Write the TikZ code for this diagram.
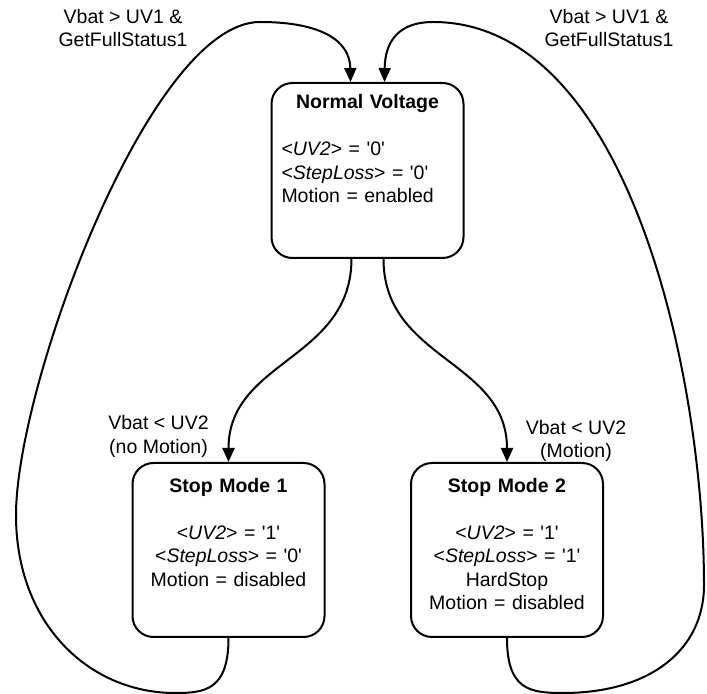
\documentclass[tikz,border=0pt]{standalone}
\usepackage{fontspec}
\setmainfont{Liberation Sans}
\usetikzlibrary{arrows.meta}
\newcommand{\sq}{\textquotesingle}
\begin{document}
\begin{tikzpicture}[x=0.5pt,y=-0.5pt,
  every node/.style={font=\fontsize{9.75pt}{11.75pt}\selectfont},
  state/.style={draw, line width=1pt, rounded corners=10.5pt,
    text width=86pt, inner xsep=5pt, inner ysep=0pt},
  lbl/.style={align=center, inner sep=0pt},
  flow/.style={line width=1pt, -{Triangle[length=7pt,width=6pt]}}
]
\useasboundingbox (0,0) rectangle (707,694);

% states
\node[state, align=left, text height=13pt, text depth=74.5pt] (nv) at (367.5,170.5)
  {\makebox[86pt]{\bfseries Normal Voltage}\\[11.75pt]
   <\textit{UV2}> = \sq0\sq\\
   <\textit{StepLoss}> = \sq0\sq\\
   Motion = enabled};
\node[state, align=center, text height=14.75pt, text depth=72.25pt] (sm1) at (228.5,550)
  {\bfseries Stop Mode 1\\[11.75pt]
   \mdseries <\textit{UV2}> = \sq1\sq\\
   <\textit{StepLoss}> = \sq0\sq\\
   Motion = disabled};
\node[state, align=center, text height=14.75pt, text depth=72.25pt] (sm2) at (507,550)
  {\bfseries Stop Mode 2\\[11.75pt]
   \mdseries <\textit{UV2}> = \sq1\sq\\
   <\textit{StepLoss}> = \sq1\sq\\
   HardStop\\
   Motion = disabled};

% transition labels
\node[lbl] (tl) at (123,28) {Vbat > UV1 \&\\GetFullStatus1};
\node[lbl] (tr) at (609,28) {Vbat > UV1 \&\\GetFullStatus1};
\node[lbl] (ml) at (158.5,436.5) {Vbat < UV2\\(no Motion)};
\node[lbl] (mr) at (576,441) {Vbat < UV2\\(Motion)};

% waypoints of the return loops
\coordinate (lb) at (175,693);
\coordinate (lw) at (16,515);
\coordinate (lt) at (260,22);
\coordinate (rb) at (563,693);
\coordinate (rw) at (704,585);
\coordinate (rt) at (433,22);

% undervoltage transitions
\draw[flow] ([xshift=-8pt]nv.south) .. controls (351,360) and (228.5,360) .. (sm1.north);
\draw[flow] ([xshift=8pt]nv.south) .. controls (383.5,360) and (507,360) .. (sm2.north);

% recovery transitions
\draw[flow] (sm1.south) .. controls (228.5,690) and (205,693) .. (lb)
  .. controls (90,693) and (16,625) .. (lw)
  .. controls (16,385) and (150,22) .. (lt)
  .. controls (320,22) and (350,40) .. ([xshift=-8.5pt]nv.north);
\draw[flow] (sm2.south) .. controls (507,690) and (530,693) .. (rb)
  .. controls (650,693) and (704,650) .. (rw)
  .. controls (704,380) and (630,22) .. (rt)
  .. controls (400,22) and (385,40) .. ([xshift=8.5pt]nv.north);
\end{tikzpicture}
\end{document}
